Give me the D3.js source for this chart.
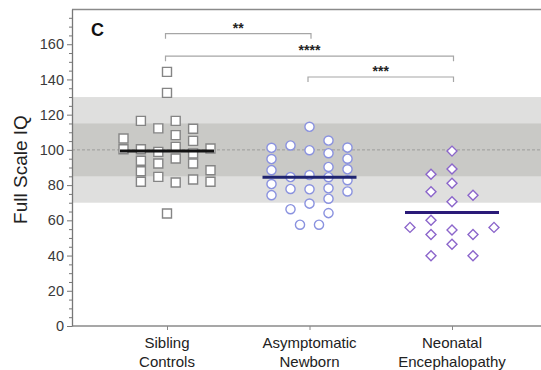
<!DOCTYPE html>
<html>
<head>
<meta charset="utf-8">
<script src="https://cdn.jsdelivr.net/npm/d3@7"></script>
<style>
  html, body { margin: 0; padding: 0; background: #fff; }
  svg { display: block; font-family: "Liberation Sans", Arial, Helvetica, sans-serif; }
</style>
</head>
<body>
<svg id="chart" width="541" height="370"></svg>
<script>
// ---- data -------------------------------------------------------------
const groups = ["Sibling Controls", "Asymptomatic Newborn", "Neonatal Encephalopathy"];

// Full Scale IQ scores, listed column by column (left to right) as the dots are stacked
const siblingColumns = [
  [106.5, 100.4], [], [116.5, 100.4, 93.8, 87.9, 81.9], [], [112.2, 98.9, 92.3, 84.7],
  [144.3, 132.4, 63.9],
  [116.5, 108.4, 101.7, 95.1, 81.5], [], [112.0, 105.1, 98.0, 92.3, 83.2], [], [100.8, 88.4, 81.9]
];
const asymptomaticColumns = [
  [101.2, 94.8, 88.5, 80.6, 74.3], [], [102.5, 84.6, 77.8, 66.3], [57.5],
  [113.1, 99.8, 85.7, 77.6, 69.5],
  [57.5], [105.3, 98.1, 90.3, 84.5, 78.2, 72.3, 64.1], [], [101.3, 95.0, 89.0, 82.8, 76.4]
];
const encephalopathyColumns = [
  [56.0], [86.2, 76.2, 60.1, 52.0, 39.9], [99.3, 89.1, 81.0, 70.5, 54.5, 46.4], [74.3, 52.0, 39.9], [56.0]
];
const groupMeans = [99.3, 84.4, 64.5];

const yMajorTicks = [0, 20, 40, 60, 80, 100, 120, 140, 160];
const yMinorStep = 5;
const populationMean = 100;
const oneSdBand = [85, 115];
const twoSdBand = [70, 130];

const comparisons = [
  { from: 0, to: 1, label: "**",   level: 166 },
  { from: 0, to: 2, label: "****", level: 153.2 },
  { from: 1, to: 2, label: "***",  level: 141.4 }
];
const panelLabel = "C";
const yTitle = "Full Scale IQ";

// ---- layout -----------------------------------------------------------
const plot = { left: 72, right: 541, top: 9, bottom: 326 };

const svg = d3.select("#chart");

const y = d3.scaleLinear().domain([0, 180]).range([plot.bottom, plot.top]);
const x = d3.scalePoint().domain(groups).range([plot.left + 95, plot.right - 89]);

// reference bands
svg.append("rect")
  .attr("x", plot.left).attr("width", plot.right - plot.left)
  .attr("y", y(twoSdBand[1])).attr("height", y(twoSdBand[0]) - y(twoSdBand[1]))
  .attr("fill", "#dfdfde");
svg.append("rect")
  .attr("x", plot.left).attr("width", plot.right - plot.left)
  .attr("y", y(oneSdBand[1])).attr("height", y(oneSdBand[0]) - y(oneSdBand[1]))
  .attr("fill", "#c9c9c6");
svg.append("line")
  .attr("x1", plot.left).attr("x2", plot.right)
  .attr("y1", y(populationMean)).attr("y2", y(populationMean))
  .attr("stroke", "#9c9c9a").attr("stroke-width", 1).attr("stroke-dasharray", "3,2");

// frame: top line and bottom baseline
svg.append("line")
  .attr("x1", plot.left).attr("x2", plot.right)
  .attr("y1", plot.top + 0.5).attr("y2", plot.top + 0.5)
  .attr("stroke", "#8a8a8a").attr("stroke-width", 1.5);
svg.append("line")
  .attr("x1", plot.left).attr("x2", plot.right)
  .attr("y1", plot.bottom).attr("y2", plot.bottom)
  .attr("stroke", "#8a8a8a").attr("stroke-width", 1.5);

// y axis
const minorTicks = d3.range(0, 180, yMinorStep).filter(v => !yMajorTicks.includes(v));
const yMinor = svg.append("g").attr("transform", `translate(${plot.left},0)`)
  .call(d3.axisLeft(y).tickValues(minorTicks).tickSize(3).tickSizeOuter(0).tickFormat(""));
yMinor.select(".domain").remove();
yMinor.selectAll(".tick line").attr("stroke", "#777");

const yAxis = svg.append("g").attr("transform", `translate(${plot.left},0)`)
  .call(d3.axisLeft(y).tickValues(yMajorTicks).tickSize(5).tickSizeOuter(0).tickPadding(3));
yAxis.select(".domain").attr("stroke", "#777").attr("stroke-width", 1.3);
yAxis.selectAll(".tick line").attr("stroke", "#777");
yAxis.selectAll(".tick text")
  .attr("fill", "#3a3a3a").style("font-size", "14.5px");

// x axis ticks and labels
const xAxis = svg.append("g").attr("transform", `translate(0,${plot.bottom})`)
  .call(d3.axisBottom(x).tickSize(4).tickFormat(""));
xAxis.select(".domain").remove();
xAxis.selectAll(".tick line").attr("stroke", "#888");

const xLabels = svg.append("g");
groups.forEach(g => {
  const words = g.split(" ");
  const t = xLabels.append("text")
    .attr("text-anchor", "middle")
    .attr("fill", "#222")
    .style("font-size", "15px");
  words.forEach((w, i) => {
    t.append("tspan").attr("x", x(g)).attr("y", plot.bottom + 22 + i * 18.5).text(w);
  });
});

// y title and panel letter
svg.append("text")
  .attr("transform", `translate(27,${(plot.top + plot.bottom) / 2 + 2}) rotate(-90)`)
  .attr("text-anchor", "middle")
  .attr("fill", "#222")
  .style("font-size", "19px")
  .text(yTitle);

svg.append("text")
  .attr("x", 91).attr("y", 36)
  .attr("fill", "#111")
  .style("font-size", "18px").style("font-weight", "bold")
  .text(panelLabel);

// ---- dot columns ------------------------------------------------------
const series = [
  { columns: siblingColumns,        half: 43.5, shape: "square",  stroke: "#858585", mean: "#111111" },
  { columns: asymptomaticColumns,   half: 38,   shape: "circle",  stroke: "#8a92df", mean: "#1f2470" },
  { columns: encephalopathyColumns, half: 42,   shape: "diamond", stroke: "#8c66cb", mean: "#2a1a78" }
];

const symbolPath = {
  square: d3.symbol(d3.symbolSquare, 81)(),
  circle: d3.symbol(d3.symbolCircle, 66)(),
  diamond: d3.symbol(d3.symbolSquare, 50)()
};

series.forEach((s, gi) => {
  const cx = x(groups[gi]);
  const offset = d3.scaleLinear().domain([0, s.columns.length - 1]).range([-s.half, s.half]);
  const pts = s.columns.flatMap((col, ci) => col.map(v => ({ ci, v })));
  svg.append("g").selectAll("path").data(pts).join("path")
    .attr("d", symbolPath[s.shape])
    .attr("transform", d => `translate(${cx + offset(d.ci)},${y(d.v)})` + (s.shape === "diamond" ? " rotate(45)" : ""))
    .attr("fill", "#fff")
    .attr("stroke", s.stroke)
    .attr("stroke-width", 1.4);

  svg.append("line")
    .attr("x1", cx - 47).attr("x2", cx + 47)
    .attr("y1", y(groupMeans[gi])).attr("y2", y(groupMeans[gi]))
    .attr("stroke", s.mean).attr("stroke-width", 3);
});

// ---- significance brackets -------------------------------------------
const brackets = svg.append("g");
comparisons.forEach(c => {
  const x1 = x(groups[c.from]) - 1.5, x2 = x(groups[c.to]) + 1.5, yy = y(c.level);
  brackets.append("path")
    .attr("d", `M${x1},${yy + 5}V${yy}H${x2}V${yy + 5}`)
    .attr("fill", "none").attr("stroke", "#a6a6a6").attr("stroke-width", 1.2);
  brackets.append("text")
    .attr("x", (x1 + x2) / 2).attr("y", yy - 1)
    .attr("text-anchor", "middle")
    .attr("fill", "#222")
    .style("font-size", "14px").style("font-weight", "bold")
    .text(c.label);
});
</script>
</body>
</html>
